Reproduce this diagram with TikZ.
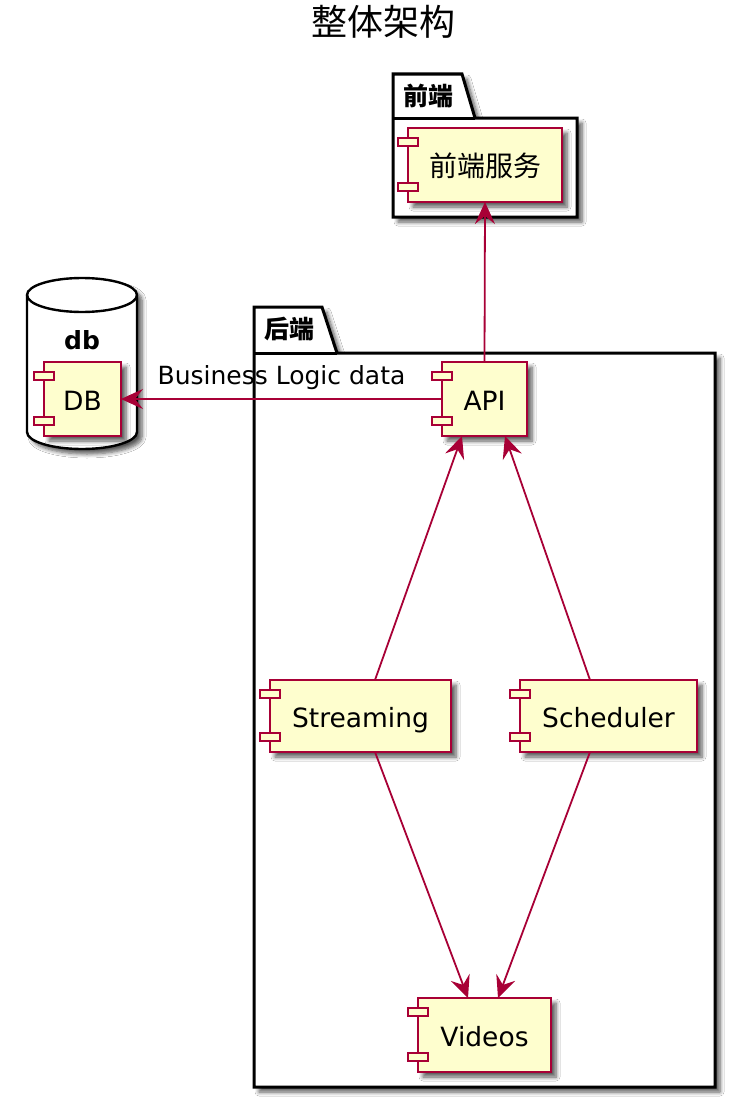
\documentclass[tikz,border=0pt]{standalone}
\usepackage{fontspec}
\setmainfont{DejaVu Sans}
\newfontfamily\cjk{Noto Sans CJK SC}
\usetikzlibrary{arrows.meta,shadows.blur}
\definecolor{pborder}{HTML}{A80036}
\definecolor{pfill}{HTML}{FEFECE}
\begin{document}
\begin{tikzpicture}[x=1pt,y=-1pt,
  shade/.style={blur shadow={shadow xshift=5pt,shadow yshift=-5pt,shadow blur radius=4pt,shadow blur steps=6,shadow opacity=65}},
  comp/.style={draw=pborder,fill=pfill,line width=2.6pt,rectangle,outer sep=0pt,inner sep=0pt,text height=22pt,text depth=0pt,font=\fontsize{26.5}{31}\selectfont,shade},
  comptab/.style={draw=pborder,fill=pfill,line width=2.4pt},
  pkg/.style={draw=black,fill=white,line width=3pt,line join=miter,shade},
  pkglabel/.style={font=\cjk\bfseries\fontsize{25}{30}\selectfont},
  link/.style={draw=pborder,line width=1.8pt,-{Stealth[length=22pt,width=20pt,inset=8pt]}},
  lbl/.style={font=\fontsize{25}{29}\selectfont},
]
\useasboundingbox (0,0) rectangle (754,1108);
\fill[white] (0,0) rectangle (754,1108);

% title
\node[font=\cjk\fontsize{36}{42}\selectfont] (title) at (383,22) {整体架构};

% package 前端
\path[pkg] (393,217) -- (393,74) -- (462,74) -- (475,118) -- (577,118) -- (577,217) -- cycle;
\draw[line width=3pt] (393,118) -- (475,118);
\node[pkglabel] (felabel) at (428,96) {前端};

% package 后端
\path[pkg] (254,1087) -- (254,307) -- (322,307) -- (337,353) -- (715,353) -- (715,1087) -- cycle;
\draw[line width=3pt] (254,353) -- (337,353);
\node[pkglabel] (belabel) at (289,329) {后端};

% database db
\path[draw=black,fill=white,line width=2.4pt,shade] (27,295) arc[start angle=180,end angle=360,x radius=55,y radius=17] -- (137,432) arc[start angle=0,end angle=180,x radius=55,y radius=17] -- cycle;
\draw[line width=2.4pt] (27,295) arc[start angle=180,end angle=0,x radius=55,y radius=17];
\node[font=\bfseries\fontsize{25}{30}\selectfont] (dblabel) at (82,340) {db};

% components
\node[comp,minimum width=154pt,minimum height=74pt] (fe) at (485,165) {\cjk\fontsize{28}{33}\selectfont 前端服务};
\node[comp,minimum width=77pt,minimum height=74pt] (db) at (82.5,399) {DB};
\node[comp,minimum width=85pt,minimum height=74pt] (api) at (484.5,399) {API};
\node[comp,minimum width=181pt,minimum height=72pt] (str) at (360.5,716) {Streaming};
\node[comp,minimum width=177pt,minimum height=72pt] (sch) at (608.5,716) {Scheduler};
\node[comp,minimum width=133pt,minimum height=74pt] (vid) at (484.5,1035) {Videos};

\foreach \n in {fe,db,api,str,sch,vid} {
  \draw[comptab] ([xshift=-10pt,yshift=-10pt]\n.north west) rectangle ([xshift=10pt,yshift=-18pt]\n.north west);
  \draw[comptab] ([xshift=-10pt,yshift=11pt]\n.south west) rectangle ([xshift=10pt,yshift=19pt]\n.south west);
}

% links
\draw[link] (api.north) -- (fe.south);
\draw[link] (api.west) -- node[lbl,midway,yshift=21pt] (bld) {Business Logic data} (db.east);
\draw[link] ([xshift=14.5pt]str.north) -- ([xshift=-22.5pt]api.south);
\draw[link] ([xshift=-18.5pt]sch.north) -- ([xshift=20.5pt]api.south);
\draw[link] ([xshift=14.5pt]str.south) -- ([xshift=-16.5pt]vid.north);
\draw[link] ([xshift=-18.5pt]sch.south) -- ([xshift=13.5pt]vid.north);
\end{tikzpicture}
\end{document}
